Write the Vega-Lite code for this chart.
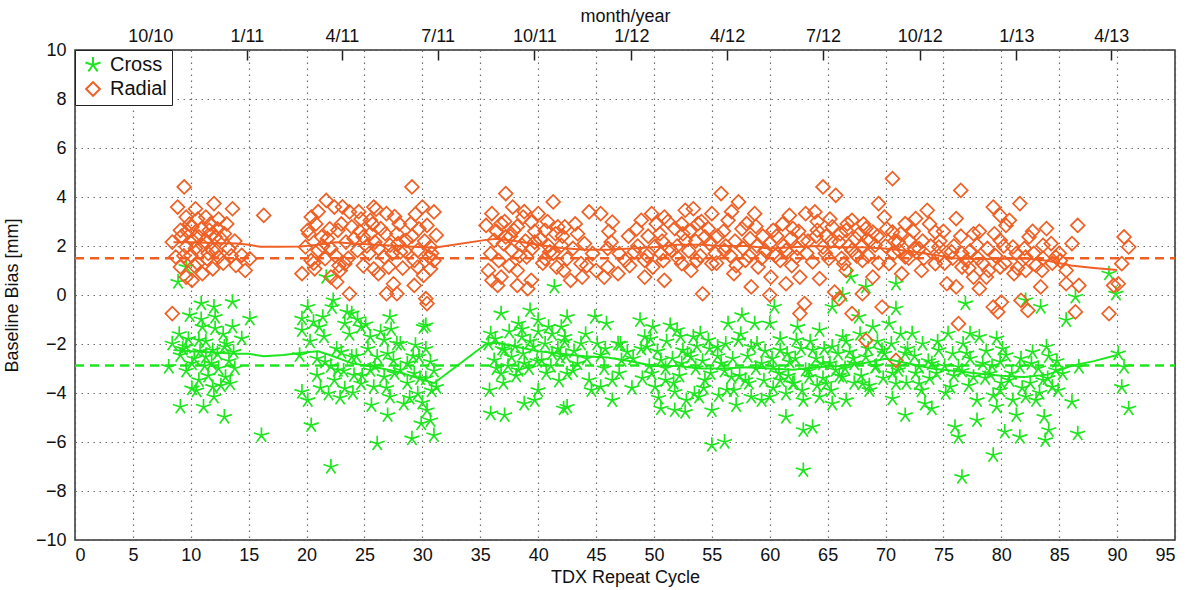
{
"$schema": "https://vega.github.io/schema/vega-lite/v6.json",
"width": 1100, "height": 490,
"autosize": {"type": "none"},
"padding": {"left": 75, "top": 50, "right": 18, "bottom": 50},
"background": "white",
"config": {
 "font": "Liberation Sans",
 "view": {"stroke": "#333", "strokeWidth": 1.5},
 "axis": {"labelFont": "Liberation Sans", "titleFont": "Liberation Sans", "labelFontSize": 18, "titleFontSize": 18, "labelColor": "#111", "titleColor": "#111", "titleFontWeight": "normal", "domain": false, "ticks": false, "gridColor": "#555", "gridDash": [1.5, 4.5], "gridWidth": 1.2, "gridOpacity": 0.85}
},
"datasets": {
 "pts": [
{"x":9.6,"y":1.14,"s":"Cross"},{"x":8.9,"y":0.53,"s":"Cross"},{"x":21.7,"y":0.73,"s":"Cross"},{"x":10.9,"y":-0.35,"s":"Cross"},{"x":12.0,"y":-0.49,"s":"Cross"},{"x":13.6,"y":-0.29,"s":"Cross"},{"x":9.9,"y":-0.83,"s":"Cross"},{"x":15.1,"y":-0.97,"s":"Cross"},{"x":20.1,"y":-0.49,"s":"Cross"},{"x":22.3,"y":-0.22,"s":"Cross"},{"x":23.9,"y":-0.76,"s":"Cross"},{"x":19.6,"y":-0.97,"s":"Cross"},{"x":21.4,"y":-0.9,"s":"Cross"},{"x":11.0,"y":-1.31,"s":"Cross"},{"x":12.1,"y":-1.37,"s":"Cross"},{"x":19.6,"y":-1.44,"s":"Cross"},{"x":21.1,"y":-1.31,"s":"Cross"},{"x":23.3,"y":-1.17,"s":"Cross"},{"x":24.7,"y":-1.31,"s":"Cross"},{"x":8.4,"y":-1.99,"s":"Cross"},{"x":9.6,"y":-2.12,"s":"Cross"},{"x":10.7,"y":-1.85,"s":"Cross"},{"x":11.9,"y":-2.26,"s":"Cross"},{"x":12.9,"y":-2.12,"s":"Cross"},{"x":14.4,"y":-1.78,"s":"Cross"},{"x":9.1,"y":-2.46,"s":"Cross"},{"x":11.3,"y":-2.53,"s":"Cross"},{"x":13.7,"y":-2.33,"s":"Cross"},{"x":19.4,"y":-2.46,"s":"Cross"},{"x":23.0,"y":-2.33,"s":"Cross"},{"x":23.9,"y":-2.53,"s":"Cross"},{"x":8.1,"y":-2.94,"s":"Cross"},{"x":10.1,"y":-2.8,"s":"Cross"},{"x":12.4,"y":-3.0,"s":"Cross"},{"x":21.6,"y":-2.73,"s":"Cross"},{"x":22.7,"y":-3.07,"s":"Cross"},{"x":10.7,"y":-3.48,"s":"Cross"},{"x":13.0,"y":-3.35,"s":"Cross"},{"x":20.9,"y":-3.28,"s":"Cross"},{"x":22.4,"y":-3.48,"s":"Cross"},{"x":24.1,"y":-3.28,"s":"Cross"},{"x":10.1,"y":-3.82,"s":"Cross"},{"x":11.9,"y":-3.76,"s":"Cross"},{"x":13.4,"y":-3.62,"s":"Cross"},{"x":19.6,"y":-3.96,"s":"Cross"},{"x":21.9,"y":-4.03,"s":"Cross"},{"x":23.3,"y":-3.82,"s":"Cross"},{"x":12.0,"y":-4.16,"s":"Cross"},{"x":20.1,"y":-4.3,"s":"Cross"},{"x":9.1,"y":-4.57,"s":"Cross"},{"x":11.1,"y":-4.57,"s":"Cross"},{"x":12.9,"y":-4.98,"s":"Cross"},{"x":20.4,"y":-5.32,"s":"Cross"},{"x":16.1,"y":-5.73,"s":"Cross"},{"x":22.1,"y":-7.02,"s":"Cross"},{"x":24.7,"y":-3.62,"s":"Cross"},
{"x":27.2,"y":-0.9,"s":"Cross"},{"x":30.3,"y":-1.24,"s":"Cross"},{"x":41.4,"y":0.33,"s":"Cross"},{"x":36.8,"y":-0.76,"s":"Cross"},{"x":39.3,"y":-0.63,"s":"Cross"},{"x":25.5,"y":-1.71,"s":"Cross"},{"x":26.7,"y":-1.85,"s":"Cross"},{"x":27.8,"y":-1.99,"s":"Cross"},{"x":29.4,"y":-2.05,"s":"Cross"},{"x":26.1,"y":-2.53,"s":"Cross"},{"x":27.5,"y":-2.67,"s":"Cross"},{"x":28.7,"y":-2.8,"s":"Cross"},{"x":29.7,"y":-2.53,"s":"Cross"},{"x":30.7,"y":-2.73,"s":"Cross"},{"x":25.5,"y":-3.07,"s":"Cross"},{"x":26.7,"y":-3.35,"s":"Cross"},{"x":28.1,"y":-3.07,"s":"Cross"},{"x":29.3,"y":-3.21,"s":"Cross"},{"x":30.3,"y":-3.41,"s":"Cross"},{"x":31.2,"y":-3.76,"s":"Cross"},{"x":25.8,"y":-3.76,"s":"Cross"},{"x":27.2,"y":-4.16,"s":"Cross"},{"x":28.4,"y":-4.44,"s":"Cross"},{"x":29.6,"y":-4.03,"s":"Cross"},{"x":30.4,"y":-4.71,"s":"Cross"},{"x":27.0,"y":-4.91,"s":"Cross"},{"x":30.7,"y":-5.12,"s":"Cross"},{"x":29.1,"y":-5.86,"s":"Cross"},{"x":26.1,"y":-6.07,"s":"Cross"},{"x":29.9,"y":-5.25,"s":"Cross"},{"x":31.0,"y":-5.73,"s":"Cross"},{"x":30.1,"y":-1.31,"s":"Cross"},
{"x":35.9,"y":-1.58,"s":"Cross"},{"x":38.3,"y":-1.17,"s":"Cross"},{"x":40.0,"y":-1.03,"s":"Cross"},{"x":40.9,"y":-1.31,"s":"Cross"},{"x":42.0,"y":-1.31,"s":"Cross"},{"x":35.7,"y":-1.99,"s":"Cross"},{"x":37.1,"y":-2.26,"s":"Cross"},{"x":38.6,"y":-1.71,"s":"Cross"},{"x":39.6,"y":-2.12,"s":"Cross"},{"x":41.2,"y":-2.39,"s":"Cross"},{"x":36.2,"y":-2.67,"s":"Cross"},{"x":37.7,"y":-2.53,"s":"Cross"},{"x":38.8,"y":-2.8,"s":"Cross"},{"x":40.3,"y":-2.67,"s":"Cross"},{"x":41.9,"y":-2.53,"s":"Cross"},{"x":36.8,"y":-3.21,"s":"Cross"},{"x":38.3,"y":-3.07,"s":"Cross"},{"x":35.8,"y":-3.89,"s":"Cross"},{"x":40.0,"y":-3.89,"s":"Cross"},{"x":38.8,"y":-4.44,"s":"Cross"},{"x":39.7,"y":-4.3,"s":"Cross"},{"x":35.9,"y":-4.84,"s":"Cross"},{"x":37.1,"y":-4.91,"s":"Cross"},{"x":42.2,"y":-4.64,"s":"Cross"},
{"x":42.5,"y":-0.9,"s":"Cross"},{"x":44.9,"y":-0.9,"s":"Cross"},{"x":45.9,"y":-1.17,"s":"Cross"},{"x":48.8,"y":-1.03,"s":"Cross"},{"x":49.9,"y":-1.31,"s":"Cross"},{"x":51.4,"y":-1.24,"s":"Cross"},{"x":52.0,"y":-1.44,"s":"Cross"},{"x":54.0,"y":-1.58,"s":"Cross"},{"x":56.4,"y":-1.17,"s":"Cross"},{"x":57.6,"y":-0.83,"s":"Cross"},{"x":58.7,"y":-1.17,"s":"Cross"},{"x":42.3,"y":-1.71,"s":"Cross"},{"x":43.7,"y":-1.99,"s":"Cross"},{"x":45.1,"y":-1.99,"s":"Cross"},{"x":46.9,"y":-1.99,"s":"Cross"},{"x":49.2,"y":-1.71,"s":"Cross"},{"x":49.4,"y":-2.12,"s":"Cross"},{"x":52.5,"y":-2.26,"s":"Cross"},{"x":53.4,"y":-1.71,"s":"Cross"},{"x":54.7,"y":-1.85,"s":"Cross"},{"x":55.5,"y":-2.12,"s":"Cross"},{"x":57.3,"y":-1.85,"s":"Cross"},{"x":58.4,"y":-2.12,"s":"Cross"},{"x":43.4,"y":-2.8,"s":"Cross"},{"x":45.4,"y":-2.46,"s":"Cross"},{"x":47.2,"y":-2.67,"s":"Cross"},{"x":47.7,"y":-2.33,"s":"Cross"},{"x":50.6,"y":-2.67,"s":"Cross"},{"x":52.4,"y":-2.8,"s":"Cross"},{"x":53.2,"y":-2.53,"s":"Cross"},{"x":55.8,"y":-2.8,"s":"Cross"},{"x":59.3,"y":-2.8,"s":"Cross"},{"x":42.5,"y":-3.21,"s":"Cross"},{"x":44.4,"y":-3.48,"s":"Cross"},{"x":46.4,"y":-3.48,"s":"Cross"},{"x":49.8,"y":-3.21,"s":"Cross"},{"x":51.0,"y":-3.48,"s":"Cross"},{"x":54.4,"y":-3.48,"s":"Cross"},{"x":56.7,"y":-3.35,"s":"Cross"},{"x":57.9,"y":-3.48,"s":"Cross"},{"x":44.6,"y":-3.89,"s":"Cross"},{"x":45.4,"y":-3.76,"s":"Cross"},{"x":50.1,"y":-3.76,"s":"Cross"},{"x":51.8,"y":-3.96,"s":"Cross"},{"x":53.5,"y":-4.03,"s":"Cross"},{"x":53.9,"y":-4.16,"s":"Cross"},{"x":56.3,"y":-3.89,"s":"Cross"},{"x":58.4,"y":-4.16,"s":"Cross"},{"x":42.5,"y":-4.57,"s":"Cross"},{"x":46.4,"y":-4.3,"s":"Cross"},{"x":50.6,"y":-4.64,"s":"Cross"},{"x":51.8,"y":-4.71,"s":"Cross"},{"x":52.7,"y":-4.78,"s":"Cross"},{"x":55.0,"y":-4.71,"s":"Cross"},{"x":57.1,"y":-4.5,"s":"Cross"},{"x":59.3,"y":-4.3,"s":"Cross"},{"x":55.0,"y":-6.13,"s":"Cross"},{"x":56.1,"y":-6.0,"s":"Cross"},
{"x":67.0,"y":0.73,"s":"Cross"},{"x":68.3,"y":0.33,"s":"Cross"},{"x":70.9,"y":0.46,"s":"Cross"},{"x":60.4,"y":-0.49,"s":"Cross"},{"x":66.3,"y":0.0,"s":"Cross"},{"x":65.4,"y":-0.49,"s":"Cross"},{"x":67.7,"y":-0.9,"s":"Cross"},{"x":70.9,"y":-0.56,"s":"Cross"},{"x":76.9,"y":-0.35,"s":"Cross"},{"x":60.0,"y":-1.17,"s":"Cross"},{"x":62.4,"y":-1.31,"s":"Cross"},{"x":64.3,"y":-1.44,"s":"Cross"},{"x":66.3,"y":-1.71,"s":"Cross"},{"x":68.9,"y":-1.31,"s":"Cross"},{"x":70.3,"y":-1.17,"s":"Cross"},{"x":72.3,"y":-1.58,"s":"Cross"},{"x":75.4,"y":-1.58,"s":"Cross"},{"x":60.9,"y":-2.26,"s":"Cross"},{"x":62.3,"y":-1.85,"s":"Cross"},{"x":63.7,"y":-2.26,"s":"Cross"},{"x":65.4,"y":-2.12,"s":"Cross"},{"x":66.9,"y":-2.33,"s":"Cross"},{"x":68.3,"y":-2.53,"s":"Cross"},{"x":69.7,"y":-2.26,"s":"Cross"},{"x":71.7,"y":-2.39,"s":"Cross"},{"x":74.6,"y":-2.26,"s":"Cross"},{"x":60.3,"y":-2.94,"s":"Cross"},{"x":61.7,"y":-2.73,"s":"Cross"},{"x":63.1,"y":-3.07,"s":"Cross"},{"x":64.6,"y":-2.8,"s":"Cross"},{"x":65.7,"y":-3.07,"s":"Cross"},{"x":67.3,"y":-2.8,"s":"Cross"},{"x":69.1,"y":-2.94,"s":"Cross"},{"x":71.1,"y":-3.07,"s":"Cross"},{"x":72.9,"y":-2.94,"s":"Cross"},{"x":74.0,"y":-2.8,"s":"Cross"},{"x":76.3,"y":-2.94,"s":"Cross"},{"x":60.9,"y":-3.48,"s":"Cross"},{"x":62.0,"y":-3.62,"s":"Cross"},{"x":63.4,"y":-3.35,"s":"Cross"},{"x":64.9,"y":-3.62,"s":"Cross"},{"x":66.3,"y":-3.35,"s":"Cross"},{"x":68.0,"y":-3.62,"s":"Cross"},{"x":70.9,"y":-3.62,"s":"Cross"},{"x":72.9,"y":-3.62,"s":"Cross"},{"x":75.6,"y":-3.76,"s":"Cross"},{"x":60.0,"y":-4.16,"s":"Cross"},{"x":61.4,"y":-4.03,"s":"Cross"},{"x":62.9,"y":-4.3,"s":"Cross"},{"x":64.3,"y":-4.16,"s":"Cross"},{"x":65.4,"y":-4.44,"s":"Cross"},{"x":66.6,"y":-4.3,"s":"Cross"},{"x":68.6,"y":-3.89,"s":"Cross"},{"x":70.6,"y":-4.23,"s":"Cross"},{"x":73.4,"y":-4.44,"s":"Cross"},{"x":61.4,"y":-4.98,"s":"Cross"},{"x":71.7,"y":-4.91,"s":"Cross"},{"x":74.0,"y":-4.64,"s":"Cross"},{"x":62.9,"y":-5.52,"s":"Cross"},{"x":63.7,"y":-5.39,"s":"Cross"},{"x":76.0,"y":-5.39,"s":"Cross"},{"x":62.9,"y":-7.16,"s":"Cross"},{"x":76.6,"y":-7.43,"s":"Cross"},{"x":76.3,"y":-5.8,"s":"Cross"},
{"x":89.3,"y":0.87,"s":"Cross"},{"x":86.4,"y":-0.08,"s":"Cross"},{"x":89.9,"y":0.05,"s":"Cross"},{"x":82.1,"y":-0.22,"s":"Cross"},{"x":83.4,"y":-0.49,"s":"Cross"},{"x":85.6,"y":-1.03,"s":"Cross"},{"x":77.3,"y":-1.58,"s":"Cross"},{"x":78.1,"y":-1.71,"s":"Cross"},{"x":79.6,"y":-1.78,"s":"Cross"},{"x":83.9,"y":-2.12,"s":"Cross"},{"x":82.7,"y":-2.33,"s":"Cross"},{"x":77.0,"y":-2.39,"s":"Cross"},{"x":80.4,"y":-2.46,"s":"Cross"},{"x":90.1,"y":-2.39,"s":"Cross"},{"x":78.4,"y":-2.8,"s":"Cross"},{"x":79.9,"y":-2.73,"s":"Cross"},{"x":81.6,"y":-2.94,"s":"Cross"},{"x":84.7,"y":-3.07,"s":"Cross"},{"x":86.7,"y":-2.94,"s":"Cross"},{"x":90.6,"y":-2.94,"s":"Cross"},{"x":77.6,"y":-3.35,"s":"Cross"},{"x":79.0,"y":-3.21,"s":"Cross"},{"x":80.7,"y":-3.48,"s":"Cross"},{"x":83.6,"y":-3.48,"s":"Cross"},{"x":85.3,"y":-3.21,"s":"Cross"},{"x":90.4,"y":-3.76,"s":"Cross"},{"x":77.9,"y":-4.3,"s":"Cross"},{"x":79.9,"y":-3.89,"s":"Cross"},{"x":82.1,"y":-4.16,"s":"Cross"},{"x":83.0,"y":-4.3,"s":"Cross"},{"x":84.4,"y":-3.76,"s":"Cross"},{"x":86.1,"y":-4.37,"s":"Cross"},{"x":79.6,"y":-4.57,"s":"Cross"},{"x":81.3,"y":-4.91,"s":"Cross"},{"x":83.7,"y":-4.98,"s":"Cross"},{"x":77.9,"y":-5.12,"s":"Cross"},{"x":80.3,"y":-5.59,"s":"Cross"},{"x":81.6,"y":-5.8,"s":"Cross"},{"x":84.1,"y":-5.52,"s":"Cross"},{"x":83.8,"y":-5.93,"s":"Cross"},{"x":86.6,"y":-5.66,"s":"Cross"},{"x":91.0,"y":-4.64,"s":"Cross"},{"x":79.3,"y":-6.54,"s":"Cross"},
{"x":9.3,"y":-2.2,"s":"Cross"},{"x":9.8,"y":-1.8,"s":"Cross"},{"x":10.3,"y":-2.6,"s":"Cross"},{"x":10.8,"y":-2.3,"s":"Cross"},{"x":11.3,"y":-1.9,"s":"Cross"},{"x":11.8,"y":-2.8,"s":"Cross"},{"x":12.3,"y":-2.4,"s":"Cross"},{"x":12.8,"y":-1.6,"s":"Cross"},{"x":13.3,"y":-2.7,"s":"Cross"},{"x":13.8,"y":-3.0,"s":"Cross"},{"x":9.6,"y":-3.1,"s":"Cross"},{"x":10.5,"y":-3.9,"s":"Cross"},{"x":11.5,"y":-3.3,"s":"Cross"},{"x":12.6,"y":-3.7,"s":"Cross"},{"x":13.6,"y":-1.3,"s":"Cross"},{"x":9.0,"y":-1.6,"s":"Cross"},{"x":10.9,"y":-1.0,"s":"Cross"},{"x":12.1,"y":-0.9,"s":"Cross"},{"x":11.2,"y":-2.9,"s":"Cross"},{"x":13.1,"y":-2.0,"s":"Cross"},
{"x":20.3,"y":-1.9,"s":"Cross"},{"x":20.9,"y":-2.6,"s":"Cross"},{"x":21.5,"y":-1.7,"s":"Cross"},{"x":22.1,"y":-2.9,"s":"Cross"},{"x":22.6,"y":-2.2,"s":"Cross"},{"x":23.2,"y":-3.1,"s":"Cross"},{"x":23.7,"y":-1.6,"s":"Cross"},{"x":24.3,"y":-2.5,"s":"Cross"},{"x":24.8,"y":-3.3,"s":"Cross"},{"x":25.3,"y":-2.2,"s":"Cross"},{"x":25.9,"y":-2.9,"s":"Cross"},{"x":26.4,"y":-1.5,"s":"Cross"},{"x":27.0,"y":-2.4,"s":"Cross"},{"x":27.6,"y":-3.2,"s":"Cross"},{"x":28.1,"y":-2.0,"s":"Cross"},{"x":28.7,"y":-3.6,"s":"Cross"},{"x":29.2,"y":-2.5,"s":"Cross"},{"x":29.8,"y":-3.4,"s":"Cross"},{"x":30.3,"y":-2.2,"s":"Cross"},{"x":30.8,"y":-3.9,"s":"Cross"},{"x":21.2,"y":-3.8,"s":"Cross"},{"x":22.9,"y":-4.2,"s":"Cross"},{"x":24.0,"y":-4.0,"s":"Cross"},{"x":25.6,"y":-4.5,"s":"Cross"},{"x":26.9,"y":-3.8,"s":"Cross"},{"x":28.9,"y":-4.2,"s":"Cross"},{"x":30.0,"y":-4.4,"s":"Cross"},{"x":31.0,"y":-3.1,"s":"Cross"},{"x":20.6,"y":-1.1,"s":"Cross"},{"x":23.5,"y":-0.7,"s":"Cross"},{"x":25.1,"y":-1.2,"s":"Cross"},{"x":27.3,"y":-1.4,"s":"Cross"},{"x":22.2,"y":-0.5,"s":"Cross"},{"x":24.4,"y":-1.0,"s":"Cross"},
{"x":36.3,"y":-1.8,"s":"Cross"},{"x":36.4,"y":-3.0,"s":"Cross"},{"x":36.9,"y":-2.2,"s":"Cross"},{"x":37.0,"y":-3.6,"s":"Cross"},{"x":37.5,"y":-1.5,"s":"Cross"},{"x":37.4,"y":-2.9,"s":"Cross"},{"x":38.0,"y":-2.1,"s":"Cross"},{"x":38.1,"y":-3.3,"s":"Cross"},{"x":38.7,"y":-2.4,"s":"Cross"},{"x":38.6,"y":-1.4,"s":"Cross"},{"x":39.3,"y":-1.9,"s":"Cross"},{"x":39.2,"y":-3.0,"s":"Cross"},{"x":39.9,"y":-2.7,"s":"Cross"},{"x":40.0,"y":-1.5,"s":"Cross"},{"x":40.6,"y":-2.0,"s":"Cross"},{"x":40.7,"y":-3.2,"s":"Cross"},{"x":41.2,"y":-1.6,"s":"Cross"},{"x":41.1,"y":-2.9,"s":"Cross"},{"x":41.7,"y":-2.2,"s":"Cross"},{"x":41.8,"y":-3.5,"s":"Cross"},{"x":42.4,"y":-2.5,"s":"Cross"},{"x":42.3,"y":-1.9,"s":"Cross"},{"x":43.1,"y":-2.3,"s":"Cross"},{"x":43.0,"y":-3.1,"s":"Cross"},{"x":44.2,"y":-2.6,"s":"Cross"},{"x":44.1,"y":-1.6,"s":"Cross"},{"x":45.8,"y":-2.2,"s":"Cross"},{"x":45.7,"y":-3.0,"s":"Cross"},{"x":47.0,"y":-3.2,"s":"Cross"},{"x":47.1,"y":-2.0,"s":"Cross"},{"x":48.2,"y":-2.6,"s":"Cross"},{"x":48.1,"y":-3.8,"s":"Cross"},{"x":48.9,"y":-2.2,"s":"Cross"},{"x":49.0,"y":-3.4,"s":"Cross"},{"x":49.6,"y":-2.9,"s":"Cross"},{"x":49.7,"y":-1.8,"s":"Cross"},{"x":50.3,"y":-2.3,"s":"Cross"},{"x":50.4,"y":-4.2,"s":"Cross"},{"x":51.0,"y":-3.0,"s":"Cross"},{"x":51.1,"y":-1.9,"s":"Cross"},{"x":51.6,"y":-2.6,"s":"Cross"},{"x":51.7,"y":-3.6,"s":"Cross"},{"x":52.2,"y":-3.3,"s":"Cross"},{"x":52.3,"y":-1.7,"s":"Cross"},{"x":52.9,"y":-2.4,"s":"Cross"},{"x":52.8,"y":-4.3,"s":"Cross"},{"x":53.6,"y":-3.0,"s":"Cross"},{"x":53.7,"y":-2.1,"s":"Cross"},{"x":54.2,"y":-2.7,"s":"Cross"},{"x":54.3,"y":-3.8,"s":"Cross"},{"x":54.9,"y":-3.2,"s":"Cross"},{"x":54.8,"y":-2.2,"s":"Cross"},{"x":55.5,"y":-2.5,"s":"Cross"},{"x":55.6,"y":-4.1,"s":"Cross"},{"x":56.1,"y":-3.1,"s":"Cross"},{"x":56.2,"y":-2.0,"s":"Cross"},{"x":56.8,"y":-2.6,"s":"Cross"},{"x":56.9,"y":-3.9,"s":"Cross"},{"x":57.4,"y":-3.3,"s":"Cross"},{"x":57.5,"y":-1.6,"s":"Cross"},{"x":58.1,"y":-2.5,"s":"Cross"},{"x":58.2,"y":-3.6,"s":"Cross"},{"x":58.8,"y":-3.0,"s":"Cross"},{"x":58.9,"y":-2.0,"s":"Cross"},{"x":59.5,"y":-3.5,"s":"Cross"},{"x":59.6,"y":-2.3,"s":"Cross"},{"x":60.2,"y":-2.6,"s":"Cross"},{"x":60.3,"y":-3.8,"s":"Cross"},{"x":60.8,"y":-3.2,"s":"Cross"},{"x":60.9,"y":-1.8,"s":"Cross"},{"x":61.5,"y":-2.4,"s":"Cross"},{"x":61.6,"y":-3.3,"s":"Cross"},{"x":62.1,"y":-3.6,"s":"Cross"},{"x":62.2,"y":-2.6,"s":"Cross"},{"x":62.7,"y":-2.2,"s":"Cross"},{"x":62.8,"y":-3.9,"s":"Cross"},{"x":63.4,"y":-3.1,"s":"Cross"},{"x":63.5,"y":-1.9,"s":"Cross"},{"x":64.0,"y":-2.6,"s":"Cross"},{"x":64.1,"y":-3.7,"s":"Cross"},{"x":64.6,"y":-3.4,"s":"Cross"},{"x":64.7,"y":-2.2,"s":"Cross"},{"x":65.2,"y":-2.8,"s":"Cross"},{"x":65.3,"y":-3.9,"s":"Cross"},{"x":65.9,"y":-2.4,"s":"Cross"},{"x":66.0,"y":-3.3,"s":"Cross"},{"x":66.5,"y":-3.0,"s":"Cross"},{"x":66.6,"y":-1.9,"s":"Cross"},{"x":67.2,"y":-2.6,"s":"Cross"},{"x":67.3,"y":-3.6,"s":"Cross"},{"x":67.9,"y":-3.3,"s":"Cross"},{"x":67.8,"y":-1.6,"s":"Cross"},{"x":68.5,"y":-2.2,"s":"Cross"},{"x":68.6,"y":-3.7,"s":"Cross"},{"x":69.2,"y":-2.9,"s":"Cross"},{"x":69.3,"y":-1.9,"s":"Cross"},{"x":69.8,"y":-3.4,"s":"Cross"},{"x":69.9,"y":-2.4,"s":"Cross"},{"x":70.5,"y":-2.0,"s":"Cross"},{"x":70.6,"y":-3.2,"s":"Cross"},{"x":71.2,"y":-2.9,"s":"Cross"},{"x":71.3,"y":-1.6,"s":"Cross"},{"x":71.8,"y":-3.6,"s":"Cross"},{"x":71.9,"y":-2.2,"s":"Cross"},{"x":72.5,"y":-2.5,"s":"Cross"},{"x":72.6,"y":-3.2,"s":"Cross"},{"x":73.1,"y":-3.9,"s":"Cross"},{"x":73.2,"y":-2.0,"s":"Cross"},{"x":73.7,"y":-2.7,"s":"Cross"},{"x":73.8,"y":-3.4,"s":"Cross"},{"x":74.4,"y":-3.2,"s":"Cross"},{"x":74.5,"y":-1.9,"s":"Cross"},{"x":75.1,"y":-2.9,"s":"Cross"},{"x":75.2,"y":-4.0,"s":"Cross"},{"x":75.8,"y":-2.4,"s":"Cross"},{"x":75.9,"y":-3.3,"s":"Cross"},{"x":76.6,"y":-3.1,"s":"Cross"},{"x":76.7,"y":-2.0,"s":"Cross"},{"x":77.2,"y":-3.7,"s":"Cross"},{"x":77.3,"y":-2.6,"s":"Cross"},{"x":78.6,"y":-3.4,"s":"Cross"},{"x":78.7,"y":-2.3,"s":"Cross"},{"x":79.2,"y":-2.9,"s":"Cross"},{"x":79.3,"y":-4.1,"s":"Cross"},{"x":80.0,"y":-3.6,"s":"Cross"},{"x":80.1,"y":-2.2,"s":"Cross"},{"x":80.9,"y":-3.2,"s":"Cross"},{"x":81.0,"y":-4.3,"s":"Cross"},{"x":81.7,"y":-2.6,"s":"Cross"},{"x":81.8,"y":-3.8,"s":"Cross"},{"x":82.5,"y":-3.6,"s":"Cross"},{"x":82.6,"y":-2.8,"s":"Cross"},{"x":83.2,"y":-3.0,"s":"Cross"},{"x":83.3,"y":-4.0,"s":"Cross"},{"x":84.0,"y":-3.4,"s":"Cross"},{"x":84.1,"y":-2.5,"s":"Cross"},{"x":84.8,"y":-2.7,"s":"Cross"},{"x":84.9,"y":-3.9,"s":"Cross"},
{"x":9.43,"y":4.41,"s":"Radial"},{"x":8.86,"y":3.59,"s":"Radial"},{"x":10.4,"y":3.52,"s":"Radial"},{"x":12.0,"y":3.73,"s":"Radial"},{"x":13.6,"y":3.52,"s":"Radial"},{"x":16.3,"y":3.25,"s":"Radial"},{"x":9.6,"y":3.18,"s":"Radial"},{"x":11.3,"y":3.18,"s":"Radial"},{"x":12.4,"y":3.1,"s":"Radial"},{"x":9.1,"y":2.64,"s":"Radial"},{"x":10.1,"y":2.78,"s":"Radial"},{"x":10.7,"y":2.37,"s":"Radial"},{"x":11.6,"y":2.64,"s":"Radial"},{"x":12.1,"y":2.37,"s":"Radial"},{"x":12.9,"y":2.5,"s":"Radial"},{"x":8.4,"y":2.16,"s":"Radial"},{"x":9.6,"y":1.96,"s":"Radial"},{"x":11.0,"y":2.03,"s":"Radial"},{"x":11.9,"y":1.82,"s":"Radial"},{"x":13.3,"y":1.89,"s":"Radial"},{"x":8.7,"y":1.55,"s":"Radial"},{"x":10.0,"y":1.62,"s":"Radial"},{"x":11.4,"y":1.48,"s":"Radial"},{"x":12.4,"y":1.55,"s":"Radial"},{"x":14.4,"y":1.62,"s":"Radial"},{"x":15.1,"y":1.48,"s":"Radial"},{"x":9.1,"y":1.14,"s":"Radial"},{"x":10.6,"y":1.28,"s":"Radial"},{"x":11.9,"y":1.07,"s":"Radial"},{"x":13.9,"y":1.21,"s":"Radial"},{"x":14.7,"y":1.0,"s":"Radial"},{"x":10.1,"y":0.6,"s":"Radial"},{"x":8.4,"y":-0.76,"s":"Radial"},{"x":9.6,"y":0.73,"s":"Radial"},{"x":11.0,"y":0.87,"s":"Radial"},
{"x":21.7,"y":3.86,"s":"Radial"},{"x":22.4,"y":3.59,"s":"Radial"},{"x":20.4,"y":3.18,"s":"Radial"},{"x":23.7,"y":3.39,"s":"Radial"},{"x":24.7,"y":3.1,"s":"Radial"},{"x":20.1,"y":2.64,"s":"Radial"},{"x":21.3,"y":2.37,"s":"Radial"},{"x":22.7,"y":2.64,"s":"Radial"},{"x":23.9,"y":2.78,"s":"Radial"},{"x":19.9,"y":1.96,"s":"Radial"},{"x":21.0,"y":1.82,"s":"Radial"},{"x":22.1,"y":1.89,"s":"Radial"},{"x":23.4,"y":2.16,"s":"Radial"},{"x":24.4,"y":1.82,"s":"Radial"},{"x":20.4,"y":1.41,"s":"Radial"},{"x":21.6,"y":1.48,"s":"Radial"},{"x":23.3,"y":1.28,"s":"Radial"},{"x":19.6,"y":0.87,"s":"Radial"},{"x":20.7,"y":1.07,"s":"Radial"},{"x":22.1,"y":0.73,"s":"Radial"},{"x":22.9,"y":1.0,"s":"Radial"},{"x":23.7,"y":0.05,"s":"Radial"},{"x":22.6,"y":0.53,"s":"Radial"},
{"x":29.1,"y":4.41,"s":"Radial"},{"x":25.8,"y":3.59,"s":"Radial"},{"x":26.9,"y":3.32,"s":"Radial"},{"x":30.0,"y":3.59,"s":"Radial"},{"x":31.0,"y":3.39,"s":"Radial"},{"x":25.5,"y":3.05,"s":"Radial"},{"x":26.4,"y":2.71,"s":"Radial"},{"x":27.8,"y":2.5,"s":"Radial"},{"x":29.0,"y":2.91,"s":"Radial"},{"x":30.4,"y":2.84,"s":"Radial"},{"x":31.2,"y":2.44,"s":"Radial"},{"x":24.9,"y":2.37,"s":"Radial"},{"x":25.9,"y":2.16,"s":"Radial"},{"x":27.2,"y":2.03,"s":"Radial"},{"x":28.6,"y":2.23,"s":"Radial"},{"x":29.6,"y":1.82,"s":"Radial"},{"x":30.7,"y":1.96,"s":"Radial"},{"x":25.4,"y":1.69,"s":"Radial"},{"x":26.7,"y":1.55,"s":"Radial"},{"x":28.1,"y":1.76,"s":"Radial"},{"x":29.3,"y":1.41,"s":"Radial"},{"x":30.6,"y":1.55,"s":"Radial"},{"x":25.8,"y":1.07,"s":"Radial"},{"x":27.1,"y":1.14,"s":"Radial"},{"x":29.6,"y":1.14,"s":"Radial"},{"x":30.7,"y":1.07,"s":"Radial"},{"x":26.2,"y":0.87,"s":"Radial"},{"x":27.5,"y":0.46,"s":"Radial"},{"x":26.9,"y":0.05,"s":"Radial"},{"x":27.8,"y":0.05,"s":"Radial"},{"x":29.3,"y":0.39,"s":"Radial"},{"x":30.3,"y":-0.15,"s":"Radial"},{"x":30.4,"y":-0.35,"s":"Radial"},
{"x":37.2,"y":4.14,"s":"Radial"},{"x":41.3,"y":3.8,"s":"Radial"},{"x":36.0,"y":3.32,"s":"Radial"},{"x":37.8,"y":3.59,"s":"Radial"},{"x":38.7,"y":3.18,"s":"Radial"},{"x":40.0,"y":3.32,"s":"Radial"},{"x":35.5,"y":2.84,"s":"Radial"},{"x":36.8,"y":2.91,"s":"Radial"},{"x":37.9,"y":2.64,"s":"Radial"},{"x":39.4,"y":2.98,"s":"Radial"},{"x":40.6,"y":2.64,"s":"Radial"},{"x":41.7,"y":2.78,"s":"Radial"},{"x":36.2,"y":2.23,"s":"Radial"},{"x":37.2,"y":2.37,"s":"Radial"},{"x":38.6,"y":2.03,"s":"Radial"},{"x":39.7,"y":2.16,"s":"Radial"},{"x":41.0,"y":1.76,"s":"Radial"},{"x":42.0,"y":2.03,"s":"Radial"},{"x":35.9,"y":1.69,"s":"Radial"},{"x":37.7,"y":1.82,"s":"Radial"},{"x":39.0,"y":1.55,"s":"Radial"},{"x":40.6,"y":1.48,"s":"Radial"},{"x":41.6,"y":1.14,"s":"Radial"},{"x":35.7,"y":1.0,"s":"Radial"},{"x":36.8,"y":0.73,"s":"Radial"},{"x":38.2,"y":1.0,"s":"Radial"},{"x":39.4,"y":0.6,"s":"Radial"},{"x":36.0,"y":0.6,"s":"Radial"},{"x":36.5,"y":0.39,"s":"Radial"},{"x":38.2,"y":0.39,"s":"Radial"},{"x":39.1,"y":0.26,"s":"Radial"},
{"x":42.3,"y":2.78,"s":"Radial"},{"x":43.4,"y":2.5,"s":"Radial"},{"x":44.4,"y":3.39,"s":"Radial"},{"x":45.4,"y":3.32,"s":"Radial"},{"x":46.4,"y":2.98,"s":"Radial"},{"x":46.3,"y":2.16,"s":"Radial"},{"x":42.5,"y":1.48,"s":"Radial"},{"x":43.7,"y":1.28,"s":"Radial"},{"x":44.7,"y":1.69,"s":"Radial"},{"x":45.0,"y":1.0,"s":"Radial"},{"x":46.0,"y":1.14,"s":"Radial"},{"x":47.0,"y":1.69,"s":"Radial"},{"x":47.5,"y":1.41,"s":"Radial"},{"x":42.8,"y":0.6,"s":"Radial"},{"x":43.8,"y":0.73,"s":"Radial"},{"x":45.7,"y":0.73,"s":"Radial"},{"x":46.9,"y":0.87,"s":"Radial"},{"x":48.3,"y":1.76,"s":"Radial"},{"x":48.9,"y":3.05,"s":"Radial"},{"x":49.8,"y":3.32,"s":"Radial"},{"x":49.2,"y":1.41,"s":"Radial"},{"x":49.9,"y":1.14,"s":"Radial"},{"x":50.5,"y":2.5,"s":"Radial"},{"x":50.9,"y":3.18,"s":"Radial"},{"x":51.5,"y":1.82,"s":"Radial"},{"x":51.8,"y":2.71,"s":"Radial"},{"x":52.7,"y":3.46,"s":"Radial"},{"x":53.4,"y":3.52,"s":"Radial"},{"x":52.4,"y":1.28,"s":"Radial"},{"x":53.2,"y":1.0,"s":"Radial"},{"x":53.8,"y":2.91,"s":"Radial"},{"x":54.4,"y":2.37,"s":"Radial"},{"x":55.0,"y":1.28,"s":"Radial"},{"x":55.0,"y":3.32,"s":"Radial"},{"x":55.8,"y":4.14,"s":"Radial"},{"x":56.4,"y":3.05,"s":"Radial"},{"x":57.3,"y":3.8,"s":"Radial"},{"x":58.0,"y":2.91,"s":"Radial"},{"x":58.7,"y":3.32,"s":"Radial"},{"x":56.1,"y":1.82,"s":"Radial"},{"x":56.9,"y":0.87,"s":"Radial"},{"x":57.9,"y":1.41,"s":"Radial"},{"x":58.4,"y":0.33,"s":"Radial"},{"x":54.2,"y":0.05,"s":"Radial"},{"x":50.6,"y":1.69,"s":"Radial"},{"x":50.9,"y":0.6,"s":"Radial"},{"x":49.2,"y":0.73,"s":"Radial"},{"x":59.0,"y":1.14,"s":"Radial"},{"x":59.6,"y":1.82,"s":"Radial"},{"x":52.7,"y":2.23,"s":"Radial"},{"x":55.3,"y":1.69,"s":"Radial"},
{"x":64.6,"y":4.41,"s":"Radial"},{"x":65.7,"y":4.07,"s":"Radial"},{"x":70.6,"y":4.75,"s":"Radial"},{"x":76.5,"y":4.27,"s":"Radial"},{"x":69.4,"y":3.73,"s":"Radial"},{"x":73.6,"y":3.46,"s":"Radial"},{"x":76.1,"y":3.12,"s":"Radial"},{"x":61.7,"y":3.25,"s":"Radial"},{"x":63.1,"y":3.32,"s":"Radial"},{"x":63.9,"y":3.39,"s":"Radial"},{"x":67.1,"y":3.05,"s":"Radial"},{"x":68.3,"y":2.71,"s":"Radial"},{"x":69.9,"y":3.18,"s":"Radial"},{"x":71.7,"y":2.91,"s":"Radial"},{"x":72.6,"y":3.12,"s":"Radial"},{"x":60.3,"y":2.64,"s":"Radial"},{"x":62.0,"y":2.71,"s":"Radial"},{"x":64.1,"y":2.64,"s":"Radial"},{"x":65.4,"y":2.78,"s":"Radial"},{"x":66.6,"y":2.64,"s":"Radial"},{"x":67.7,"y":2.5,"s":"Radial"},{"x":68.9,"y":2.57,"s":"Radial"},{"x":70.6,"y":2.57,"s":"Radial"},{"x":74.3,"y":2.57,"s":"Radial"},{"x":60.0,"y":2.1,"s":"Radial"},{"x":61.4,"y":1.82,"s":"Radial"},{"x":62.9,"y":2.23,"s":"Radial"},{"x":64.6,"y":1.96,"s":"Radial"},{"x":66.0,"y":2.16,"s":"Radial"},{"x":67.1,"y":1.82,"s":"Radial"},{"x":69.1,"y":2.03,"s":"Radial"},{"x":71.1,"y":2.16,"s":"Radial"},{"x":72.9,"y":1.89,"s":"Radial"},{"x":74.6,"y":1.96,"s":"Radial"},{"x":75.7,"y":1.76,"s":"Radial"},{"x":60.9,"y":1.41,"s":"Radial"},{"x":62.3,"y":1.55,"s":"Radial"},{"x":63.7,"y":1.35,"s":"Radial"},{"x":65.1,"y":1.48,"s":"Radial"},{"x":66.4,"y":1.28,"s":"Radial"},{"x":68.0,"y":1.41,"s":"Radial"},{"x":70.3,"y":1.28,"s":"Radial"},{"x":71.7,"y":1.55,"s":"Radial"},{"x":73.1,"y":1.0,"s":"Radial"},{"x":74.3,"y":1.28,"s":"Radial"},{"x":76.6,"y":1.14,"s":"Radial"},{"x":60.1,"y":0.73,"s":"Radial"},{"x":61.4,"y":0.46,"s":"Radial"},{"x":62.6,"y":0.73,"s":"Radial"},{"x":64.3,"y":0.67,"s":"Radial"},{"x":66.6,"y":1.0,"s":"Radial"},{"x":68.9,"y":0.73,"s":"Radial"},{"x":71.4,"y":0.87,"s":"Radial"},{"x":75.3,"y":0.46,"s":"Radial"},{"x":76.1,"y":0.33,"s":"Radial"},{"x":60.0,"y":0.0,"s":"Radial"},{"x":63.0,"y":-0.35,"s":"Radial"},{"x":62.6,"y":-0.76,"s":"Radial"},{"x":65.6,"y":0.12,"s":"Radial"},{"x":66.0,"y":-0.15,"s":"Radial"},{"x":67.1,"y":-0.76,"s":"Radial"},{"x":68.0,"y":0.05,"s":"Radial"},{"x":69.7,"y":-0.49,"s":"Radial"},{"x":68.3,"y":-1.85,"s":"Radial"},{"x":70.9,"y":-2.67,"s":"Radial"},{"x":76.3,"y":-1.17,"s":"Radial"},
{"x":79.3,"y":3.59,"s":"Radial"},{"x":81.6,"y":3.73,"s":"Radial"},{"x":79.9,"y":3.25,"s":"Radial"},{"x":80.7,"y":3.05,"s":"Radial"},{"x":80.4,"y":2.84,"s":"Radial"},{"x":83.9,"y":2.71,"s":"Radial"},{"x":86.6,"y":2.84,"s":"Radial"},{"x":77.6,"y":2.5,"s":"Radial"},{"x":79.9,"y":2.23,"s":"Radial"},{"x":82.4,"y":2.37,"s":"Radial"},{"x":77.9,"y":2.03,"s":"Radial"},{"x":81.0,"y":1.96,"s":"Radial"},{"x":83.6,"y":2.03,"s":"Radial"},{"x":86.1,"y":2.1,"s":"Radial"},{"x":90.6,"y":2.37,"s":"Radial"},{"x":91.0,"y":1.96,"s":"Radial"},{"x":77.0,"y":1.41,"s":"Radial"},{"x":78.4,"y":1.28,"s":"Radial"},{"x":79.9,"y":1.14,"s":"Radial"},{"x":82.1,"y":1.55,"s":"Radial"},{"x":83.0,"y":1.21,"s":"Radial"},{"x":84.7,"y":1.55,"s":"Radial"},{"x":85.6,"y":1.0,"s":"Radial"},{"x":90.4,"y":1.28,"s":"Radial"},{"x":77.6,"y":0.73,"s":"Radial"},{"x":78.7,"y":0.73,"s":"Radial"},{"x":81.1,"y":0.87,"s":"Radial"},{"x":78.1,"y":0.26,"s":"Radial"},{"x":83.4,"y":0.33,"s":"Radial"},{"x":85.6,"y":0.46,"s":"Radial"},{"x":86.7,"y":0.39,"s":"Radial"},{"x":89.7,"y":0.39,"s":"Radial"},{"x":90.1,"y":0.46,"s":"Radial"},{"x":79.3,"y":-0.49,"s":"Radial"},{"x":79.7,"y":-0.69,"s":"Radial"},{"x":80.0,"y":-0.29,"s":"Radial"},{"x":81.7,"y":-0.22,"s":"Radial"},{"x":82.3,"y":-0.63,"s":"Radial"},{"x":86.4,"y":-0.69,"s":"Radial"},{"x":89.3,"y":-0.76,"s":"Radial"},
{"x":9.2,"y":2.4,"s":"Radial"},{"x":9.9,"y":2.9,"s":"Radial"},{"x":10.4,"y":1.9,"s":"Radial"},{"x":10.9,"y":2.7,"s":"Radial"},{"x":11.2,"y":2.2,"s":"Radial"},{"x":11.7,"y":2.9,"s":"Radial"},{"x":12.2,"y":1.8,"s":"Radial"},{"x":12.6,"y":2.3,"s":"Radial"},{"x":13.1,"y":2.9,"s":"Radial"},{"x":13.5,"y":1.6,"s":"Radial"},{"x":9.4,"y":1.6,"s":"Radial"},{"x":10.3,"y":1.2,"s":"Radial"},{"x":11.5,"y":1.7,"s":"Radial"},{"x":12.8,"y":1.3,"s":"Radial"},{"x":10.6,"y":3.1,"s":"Radial"},{"x":11.9,"y":2.5,"s":"Radial"},{"x":9.7,"y":2.6,"s":"Radial"},{"x":10.2,"y":2.2,"s":"Radial"},{"x":12.3,"y":2.7,"s":"Radial"},{"x":13.8,"y":2.2,"s":"Radial"},
{"x":20.2,"y":2.5,"s":"Radial"},{"x":20.8,"y":2.9,"s":"Radial"},{"x":21.4,"y":2.0,"s":"Radial"},{"x":22.0,"y":2.7,"s":"Radial"},{"x":22.5,"y":1.6,"s":"Radial"},{"x":23.0,"y":2.9,"s":"Radial"},{"x":23.6,"y":1.5,"s":"Radial"},{"x":24.1,"y":2.3,"s":"Radial"},{"x":24.6,"y":2.6,"s":"Radial"},{"x":25.2,"y":2.0,"s":"Radial"},{"x":25.7,"y":2.9,"s":"Radial"},{"x":26.2,"y":1.9,"s":"Radial"},{"x":26.8,"y":2.5,"s":"Radial"},{"x":27.4,"y":1.7,"s":"Radial"},{"x":28.0,"y":2.9,"s":"Radial"},{"x":28.5,"y":1.8,"s":"Radial"},{"x":29.1,"y":2.4,"s":"Radial"},{"x":29.7,"y":2.7,"s":"Radial"},{"x":30.2,"y":2.2,"s":"Radial"},{"x":30.8,"y":1.7,"s":"Radial"},{"x":21.0,"y":3.4,"s":"Radial"},{"x":23.1,"y":3.6,"s":"Radial"},{"x":24.5,"y":3.4,"s":"Radial"},{"x":26.0,"y":3.5,"s":"Radial"},{"x":27.6,"y":3.2,"s":"Radial"},{"x":29.4,"y":3.3,"s":"Radial"},{"x":20.6,"y":1.3,"s":"Radial"},{"x":22.8,"y":1.2,"s":"Radial"},{"x":24.9,"y":1.2,"s":"Radial"},{"x":28.3,"y":1.1,"s":"Radial"},{"x":30.1,"y":0.8,"s":"Radial"},{"x":31.0,"y":1.4,"s":"Radial"},{"x":25.5,"y":2.5,"s":"Radial"},{"x":27.9,"y":2.1,"s":"Radial"},{"x":21.8,"y":2.3,"s":"Radial"},
{"x":36.4,"y":2.6,"s":"Radial"},{"x":36.6,"y":1.4,"s":"Radial"},{"x":37.0,"y":2.1,"s":"Radial"},{"x":37.1,"y":3.0,"s":"Radial"},{"x":37.6,"y":2.4,"s":"Radial"},{"x":37.5,"y":1.2,"s":"Radial"},{"x":38.2,"y":2.8,"s":"Radial"},{"x":38.4,"y":1.6,"s":"Radial"},{"x":38.9,"y":2.2,"s":"Radial"},{"x":38.8,"y":3.4,"s":"Radial"},{"x":39.5,"y":1.9,"s":"Radial"},{"x":39.7,"y":2.6,"s":"Radial"},{"x":40.2,"y":2.3,"s":"Radial"},{"x":40.4,"y":1.3,"s":"Radial"},{"x":40.9,"y":2.0,"s":"Radial"},{"x":40.8,"y":3.0,"s":"Radial"},{"x":41.5,"y":2.5,"s":"Radial"},{"x":41.3,"y":1.7,"s":"Radial"},{"x":42.1,"y":2.4,"s":"Radial"},{"x":42.2,"y":1.0,"s":"Radial"},{"x":43.0,"y":1.9,"s":"Radial"},{"x":43.2,"y":2.9,"s":"Radial"},{"x":44.0,"y":2.1,"s":"Radial"},{"x":44.2,"y":1.2,"s":"Radial"},{"x":46.0,"y":1.9,"s":"Radial"},{"x":46.1,"y":2.6,"s":"Radial"},{"x":47.8,"y":2.4,"s":"Radial"},{"x":47.9,"y":1.2,"s":"Radial"},{"x":48.6,"y":2.0,"s":"Radial"},{"x":48.5,"y":2.7,"s":"Radial"},{"x":49.4,"y":1.6,"s":"Radial"},{"x":49.5,"y":2.4,"s":"Radial"},{"x":50.2,"y":2.9,"s":"Radial"},{"x":50.1,"y":2.0,"s":"Radial"},{"x":50.8,"y":1.4,"s":"Radial"},{"x":50.7,"y":2.2,"s":"Radial"},{"x":51.2,"y":3.0,"s":"Radial"},{"x":51.3,"y":1.9,"s":"Radial"},{"x":52.0,"y":2.0,"s":"Radial"},{"x":52.1,"y":1.5,"s":"Radial"},{"x":52.4,"y":2.9,"s":"Radial"},{"x":52.5,"y":2.5,"s":"Radial"},{"x":53.0,"y":1.8,"s":"Radial"},{"x":53.1,"y":2.6,"s":"Radial"},{"x":53.6,"y":2.2,"s":"Radial"},{"x":53.7,"y":1.4,"s":"Radial"},{"x":54.0,"y":1.6,"s":"Radial"},{"x":54.1,"y":3.0,"s":"Radial"},{"x":54.8,"y":2.1,"s":"Radial"},{"x":54.7,"y":2.7,"s":"Radial"},{"x":55.4,"y":1.3,"s":"Radial"},{"x":55.5,"y":2.4,"s":"Radial"},{"x":56.0,"y":2.6,"s":"Radial"},{"x":56.2,"y":2.0,"s":"Radial"},{"x":56.6,"y":1.6,"s":"Radial"},{"x":56.7,"y":3.4,"s":"Radial"},{"x":57.0,"y":2.2,"s":"Radial"},{"x":57.1,"y":1.2,"s":"Radial"},{"x":57.6,"y":2.7,"s":"Radial"},{"x":57.7,"y":1.9,"s":"Radial"},{"x":58.2,"y":1.6,"s":"Radial"},{"x":58.3,"y":2.3,"s":"Radial"},{"x":58.9,"y":2.0,"s":"Radial"},{"x":58.8,"y":2.8,"s":"Radial"},{"x":59.3,"y":1.5,"s":"Radial"},{"x":59.4,"y":2.4,"s":"Radial"},{"x":60.6,"y":2.4,"s":"Radial"},{"x":60.5,"y":1.6,"s":"Radial"},{"x":61.1,"y":2.9,"s":"Radial"},{"x":61.2,"y":2.0,"s":"Radial"},{"x":61.8,"y":2.3,"s":"Radial"},{"x":61.9,"y":1.2,"s":"Radial"},{"x":62.5,"y":2.6,"s":"Radial"},{"x":62.4,"y":1.9,"s":"Radial"},{"x":63.3,"y":2.2,"s":"Radial"},{"x":63.2,"y":1.7,"s":"Radial"},{"x":64.0,"y":2.4,"s":"Radial"},{"x":64.1,"y":3.0,"s":"Radial"},{"x":64.8,"y":1.7,"s":"Radial"},{"x":64.9,"y":2.4,"s":"Radial"},{"x":65.3,"y":2.2,"s":"Radial"},{"x":65.2,"y":3.1,"s":"Radial"},{"x":66.1,"y":2.5,"s":"Radial"},{"x":66.2,"y":1.5,"s":"Radial"},{"x":66.8,"y":2.0,"s":"Radial"},{"x":66.7,"y":2.9,"s":"Radial"},{"x":67.4,"y":2.3,"s":"Radial"},{"x":67.5,"y":1.6,"s":"Radial"},{"x":68.0,"y":2.0,"s":"Radial"},{"x":68.1,"y":2.9,"s":"Radial"},{"x":68.6,"y":2.2,"s":"Radial"},{"x":68.5,"y":1.6,"s":"Radial"},{"x":69.3,"y":2.4,"s":"Radial"},{"x":69.4,"y":1.3,"s":"Radial"},{"x":70.0,"y":2.0,"s":"Radial"},{"x":70.1,"y":2.7,"s":"Radial"},{"x":70.7,"y":1.7,"s":"Radial"},{"x":70.8,"y":2.2,"s":"Radial"},{"x":71.3,"y":2.5,"s":"Radial"},{"x":71.2,"y":1.8,"s":"Radial"},{"x":72.0,"y":1.5,"s":"Radial"},{"x":72.1,"y":2.2,"s":"Radial"},{"x":72.4,"y":2.6,"s":"Radial"},{"x":72.5,"y":1.9,"s":"Radial"},{"x":73.2,"y":2.2,"s":"Radial"},{"x":73.3,"y":1.5,"s":"Radial"},{"x":73.9,"y":2.0,"s":"Radial"},{"x":73.8,"y":2.9,"s":"Radial"},{"x":74.6,"y":1.6,"s":"Radial"},{"x":74.7,"y":2.2,"s":"Radial"},{"x":75.0,"y":2.6,"s":"Radial"},{"x":75.1,"y":1.3,"s":"Radial"},{"x":75.9,"y":2.0,"s":"Radial"},{"x":75.8,"y":1.5,"s":"Radial"},{"x":76.5,"y":2.4,"s":"Radial"},{"x":76.6,"y":1.7,"s":"Radial"},{"x":77.3,"y":1.8,"s":"Radial"},{"x":77.2,"y":1.1,"s":"Radial"},{"x":78.0,"y":1.5,"s":"Radial"},{"x":78.1,"y":2.6,"s":"Radial"},{"x":78.8,"y":1.9,"s":"Radial"},{"x":78.9,"y":1.0,"s":"Radial"},{"x":79.5,"y":1.6,"s":"Radial"},{"x":79.4,"y":2.5,"s":"Radial"},{"x":80.3,"y":1.3,"s":"Radial"},{"x":80.2,"y":2.0,"s":"Radial"},{"x":81.3,"y":1.7,"s":"Radial"},{"x":81.4,"y":1.1,"s":"Radial"},{"x":82.0,"y":1.9,"s":"Radial"},{"x":82.1,"y":1.0,"s":"Radial"},{"x":82.8,"y":1.7,"s":"Radial"},{"x":82.7,"y":2.6,"s":"Radial"},{"x":83.6,"y":1.5,"s":"Radial"},{"x":83.5,"y":1.0,"s":"Radial"},{"x":84.3,"y":2.1,"s":"Radial"},{"x":84.4,"y":1.3,"s":"Radial"},{"x":85.0,"y":1.7,"s":"Radial"},{"x":85.1,"y":1.4,"s":"Radial"}
 ],
 "smooth": [
{"x":8.5,"y":2.15,"s":"Radial"},{"x":10,"y":2.15,"s":"Radial"},{"x":12,"y":2.12,"s":"Radial"},{"x":14,"y":2.1,"s":"Radial"},{"x":15,"y":2.05,"s":"Radial"},{"x":16,"y":1.97,"s":"Radial"},{"x":17.5,"y":1.97,"s":"Radial"},{"x":19.5,"y":1.98,"s":"Radial"},{"x":21,"y":2.05,"s":"Radial"},{"x":22.5,"y":2.15,"s":"Radial"},{"x":24,"y":2.1,"s":"Radial"},{"x":26,"y":2.05,"s":"Radial"},{"x":28,"y":2.0,"s":"Radial"},{"x":30,"y":1.95,"s":"Radial"},{"x":31,"y":1.93,"s":"Radial"},{"x":35.5,"y":2.25,"s":"Radial"},{"x":36.5,"y":2.3,"s":"Radial"},{"x":38,"y":2.2,"s":"Radial"},{"x":40,"y":2.05,"s":"Radial"},{"x":42,"y":1.92,"s":"Radial"},{"x":44,"y":1.85,"s":"Radial"},{"x":46,"y":1.85,"s":"Radial"},{"x":48,"y":1.9,"s":"Radial"},{"x":50,"y":1.95,"s":"Radial"},{"x":52,"y":2.05,"s":"Radial"},{"x":54,"y":2.05,"s":"Radial"},{"x":56,"y":2.0,"s":"Radial"},{"x":58,"y":2.0,"s":"Radial"},{"x":60,"y":1.9,"s":"Radial"},{"x":62,"y":1.95,"s":"Radial"},{"x":64,"y":2.0,"s":"Radial"},{"x":66,"y":1.95,"s":"Radial"},{"x":68,"y":1.95,"s":"Radial"},{"x":70,"y":1.9,"s":"Radial"},{"x":72,"y":1.8,"s":"Radial"},{"x":74,"y":1.65,"s":"Radial"},{"x":76,"y":1.5,"s":"Radial"},{"x":78,"y":1.47,"s":"Radial"},{"x":80,"y":1.48,"s":"Radial"},{"x":82,"y":1.5,"s":"Radial"},{"x":84,"y":1.4,"s":"Radial"},{"x":86,"y":1.2,"s":"Radial"},{"x":88,"y":1.1,"s":"Radial"},{"x":90,"y":1.02,"s":"Radial"},
{"x":8.5,"y":-2.25,"s":"Cross"},{"x":10,"y":-2.3,"s":"Cross"},{"x":12,"y":-2.35,"s":"Cross"},{"x":14,"y":-2.4,"s":"Cross"},{"x":15,"y":-2.4,"s":"Cross"},{"x":16.3,"y":-2.5,"s":"Cross"},{"x":18,"y":-2.45,"s":"Cross"},{"x":19.8,"y":-2.35,"s":"Cross"},{"x":21,"y":-2.3,"s":"Cross"},{"x":22,"y":-2.45,"s":"Cross"},{"x":24,"y":-2.8,"s":"Cross"},{"x":26,"y":-2.95,"s":"Cross"},{"x":28,"y":-3.15,"s":"Cross"},{"x":30,"y":-3.45,"s":"Cross"},{"x":31,"y":-3.6,"s":"Cross"},{"x":35.5,"y":-2.0,"s":"Cross"},{"x":36.5,"y":-1.95,"s":"Cross"},{"x":38,"y":-2.1,"s":"Cross"},{"x":40,"y":-2.3,"s":"Cross"},{"x":42,"y":-2.4,"s":"Cross"},{"x":44,"y":-2.5,"s":"Cross"},{"x":46,"y":-2.55,"s":"Cross"},{"x":48,"y":-2.7,"s":"Cross"},{"x":50,"y":-2.9,"s":"Cross"},{"x":52,"y":-2.9,"s":"Cross"},{"x":54,"y":-3.0,"s":"Cross"},{"x":56,"y":-3.0,"s":"Cross"},{"x":58,"y":-2.95,"s":"Cross"},{"x":60,"y":-3.0,"s":"Cross"},{"x":62,"y":-3.05,"s":"Cross"},{"x":64,"y":-2.95,"s":"Cross"},{"x":66,"y":-2.9,"s":"Cross"},{"x":68,"y":-2.8,"s":"Cross"},{"x":70,"y":-2.6,"s":"Cross"},{"x":72,"y":-2.8,"s":"Cross"},{"x":74,"y":-3.0,"s":"Cross"},{"x":76,"y":-3.1,"s":"Cross"},{"x":78,"y":-3.2,"s":"Cross"},{"x":80,"y":-3.3,"s":"Cross"},{"x":82,"y":-3.35,"s":"Cross"},{"x":84,"y":-3.25,"s":"Cross"},{"x":86,"y":-2.9,"s":"Cross"},{"x":88,"y":-2.7,"s":"Cross"},{"x":90,"y":-2.45,"s":"Cross"}
 ],
 "mean": [
{"x":0,"y":1.5,"s":"Radial"},{"x":95,"y":1.5,"s":"Radial"},{"x":0,"y":-2.88,"s":"Cross"},{"x":95,"y":-2.88,"s":"Cross"}
 ],
 "months": [
{"x":6.49,"lab":"10/10"},{"x":14.85,"lab":"1/11"},{"x":23.05,"lab":"4/11"},{"x":31.32,"lab":"7/11"},{"x":39.68,"lab":"10/11"},{"x":48.05,"lab":"1/12"},{"x":56.32,"lab":"4/12"},{"x":64.6,"lab":"7/12"},{"x":72.96,"lab":"10/12"},{"x":81.3,"lab":"1/13"},{"x":89.5,"lab":"4/13"}
 ]
},
"resolve": {"axis": {"x": "independent", "y": "independent"}},
"layer": [
 {
  "data": {"name": "pts"},
  "mark": {"type": "point", "filled": false, "strokeWidth": 1.7, "opacity": 1},
  "encoding": {
   "x": {"field": "x", "type": "quantitative", "scale": {"domain": [0, 95], "nice": false, "zero": false},
         "axis": {"values": [0,5,10,15,20,25,30,35,40,45,50,55,60,65,70,75,80,85,90,95], "title": "TDX Repeat Cycle", "labelPadding": 6, "titlePadding": 4, "grid": true}},
   "y": {"field": "y", "type": "quantitative", "scale": {"domain": [-10, 10], "nice": false, "zero": false},
         "axis": {"values": [-10,-8,-6,-4,-2,0,2,4,6,8,10], "title": "Baseline Bias [mm]", "labelPadding": 9, "titlePadding": 14, "grid": true}},
   "size": {"field": "s", "type": "nominal", "scale": {"domain": ["Cross", "Radial"], "range": [250, 190]}, "legend": null},
   "color": {"field": "s", "type": "nominal", "scale": {"domain": ["Cross", "Radial"], "range": ["#1ee61e", "#f05f23"]},
             "legend": {"title": null, "orient": "none", "legendX": 0, "legendY": 0, "strokeColor": "#222", "fillColor": "white", "padding": 5, "labelFontSize": 20, "labelFont": "Liberation Sans", "labelColor": "#111", "symbolSize": 440, "symbolStrokeWidth": 2, "rowPadding": 2, "labelOffset": 7, "symbolOffset": 3, "cornerRadius": 0, "labelExpr": "datum.label + '\u00a0\u00a0\u00a0'"}},
   "shape": {"field": "s", "type": "nominal", "scale": {"domain": ["Cross", "Radial"], "range": ["M0,0L0,-1M0,0L0.951,-0.309M0,0L0.588,0.809M0,0L-0.588,0.809M0,0L-0.951,-0.309", "diamond"]},
             "legend": {"title": null, "orient": "none", "legendX": 0, "legendY": 0, "strokeColor": "#222", "fillColor": "white", "padding": 5, "labelFontSize": 20, "labelFont": "Liberation Sans", "labelColor": "#111", "symbolSize": 440, "symbolStrokeWidth": 2, "rowPadding": 2, "labelOffset": 7, "symbolOffset": 3, "cornerRadius": 0, "labelExpr": "datum.label + '\u00a0\u00a0\u00a0'"}}
  }
 },
 {
  "data": {"name": "smooth"},
  "transform": [{"filter": "datum.s === 'Radial'"}],
  "mark": {"type": "line", "color": "#f05f23", "strokeWidth": 2},
  "encoding": {"x": {"field": "x", "type": "quantitative", "axis": null}, "y": {"field": "y", "type": "quantitative", "axis": null}}
 },
 {
  "data": {"name": "smooth"},
  "transform": [{"filter": "datum.s === 'Cross'"}],
  "mark": {"type": "line", "color": "#1ee61e", "strokeWidth": 2},
  "encoding": {"x": {"field": "x", "type": "quantitative", "axis": null}, "y": {"field": "y", "type": "quantitative", "axis": null}}
 },
 {
  "data": {"name": "mean"},
  "transform": [{"filter": "datum.s === 'Radial'"}],
  "mark": {"type": "line", "color": "#f05f23", "strokeWidth": 2.5, "strokeDash": [9, 6]},
  "encoding": {"x": {"field": "x", "type": "quantitative", "axis": null}, "y": {"field": "y", "type": "quantitative", "axis": null}}
 },
 {
  "data": {"name": "mean"},
  "transform": [{"filter": "datum.s === 'Cross'"}],
  "mark": {"type": "line", "color": "#1ee61e", "strokeWidth": 2.5, "strokeDash": [9, 6]},
  "encoding": {"x": {"field": "x", "type": "quantitative", "axis": null}, "y": {"field": "y", "type": "quantitative", "axis": null}}
 },
 {
  "data": {"name": "months"},
  "mark": {"type": "tick", "opacity": 0},
  "encoding": {"x": {"field": "x", "type": "quantitative",
     "axis": {"orient": "top", "values": [6.49,14.85,23.05,31.32,39.68,48.05,56.32,64.6,72.96,81.3,89.5],
       "labelExpr": "['10/10','1/11','4/11','7/11','10/11','1/12','4/12','7/12','10/12','1/13','4/13'][indexof([6.49,14.85,23.05,31.32,39.68,48.05,56.32,64.6,72.96,81.3,89.5], datum.value)]",
       "title": "month/year", "grid": false, "ticks": true, "tickSize": -10, "tickColor": "#222", "tickWidth": 1.5, "labelPadding": 15, "titlePadding": 2}}}
 }
]
}
